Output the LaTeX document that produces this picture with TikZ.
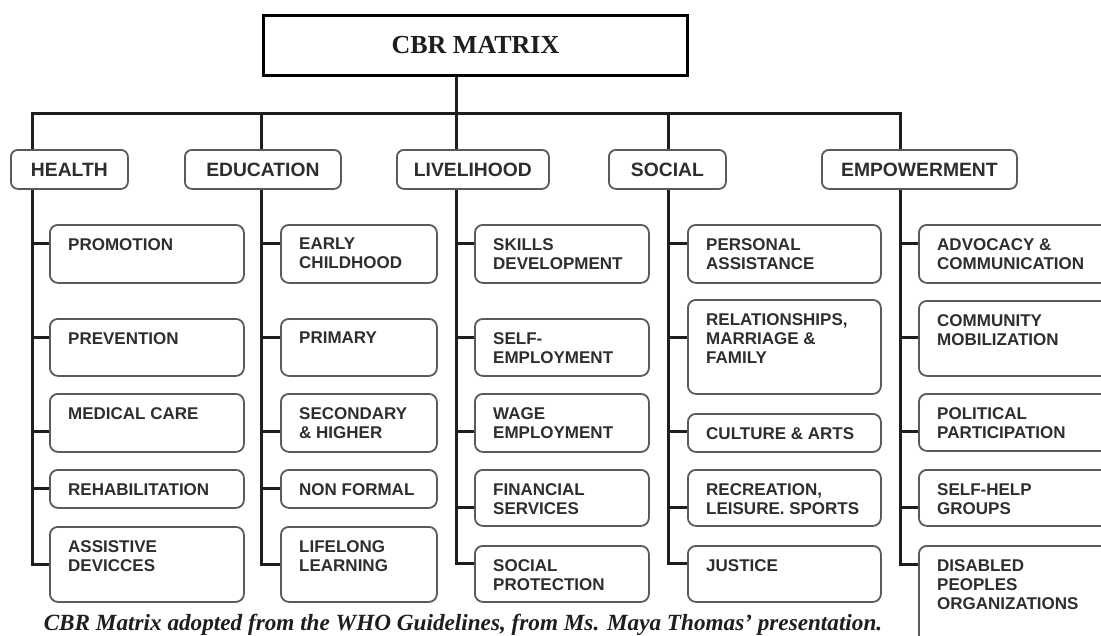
\documentclass[tikz,border=0pt]{standalone}
\usepackage{fontspec}
\setmainfont{Liberation Serif}
\setsansfont{Liberation Sans}
\definecolor{ink}{HTML}{1E1E1E}
\definecolor{boxline}{HTML}{5A5A5A}
\definecolor{txt}{HTML}{2E2E2E}
\tikzset{
  trunk/.style={line width=3pt, draw=ink},
  kidbox/.style={draw=boxline, line width=1.8pt, rounded corners=8pt, fill=white, inner sep=0pt},
  kidtext/.style={font=\sffamily\bfseries\fontsize{17}{19}\selectfont, text=txt, align=left, inner sep=0pt},
  headbox/.style={draw=boxline, line width=1.8pt, rounded corners=7pt, fill=white, inner sep=0pt,
    font=\sffamily\bfseries\fontsize{19.3}{21}\selectfont, text=txt},
  titlebox/.style={draw=black, line width=3pt, fill=white, inner sep=0pt,
    font=\bfseries\fontsize{26}{30}\selectfont, text=ink},
  captext/.style={font=\bfseries\itshape\fontsize{23.2}{26}\selectfont, text=ink, inner sep=0pt}
}
% #1 name, #2 x left, #3 top, #4 width, #5 height, #6 text, #7 trunk x, #8 connector y
\newcommand{\kid}[8]{%
  \node[kidbox, minimum width=#4pt, minimum height=#5pt, anchor=north west] (#1) at (#2,#3) {};
  \node[kidtext, anchor=north west] (#1t) at ([xshift=19pt,yshift=-14pt]#1.north west) {#6};
  \coordinate (#1c) at (#7,#8);
  \draw[trunk] (#1c) -- (#1c -| #1.west);
}
\begin{document}
\begin{tikzpicture}[x=1pt,y=-1pt]
\useasboundingbox (0,0) rectangle (1101,635);
\fill[white] (0,0) rectangle (1101,635);
\clip (0,0) rectangle (1101,635);

% title
\node[titlebox, minimum width=424pt, minimum height=60pt, anchor=north west] (title) at (262,14) {CBR MATRIX};

% headers
\node[headbox, minimum width=117pt, minimum height=39pt, anchor=north west] (hH) at (10,149) {HEALTH};
\node[headbox, minimum width=156pt, minimum height=39pt, anchor=north west] (hE) at (184,149) {EDUCATION};
\node[headbox, minimum width=152pt, minimum height=39pt, anchor=north west] (hL) at (396,149) {LIVELIHOOD};
\node[headbox, minimum width=117pt, minimum height=39pt, anchor=north west] (hS) at (608,149) {SOCIAL};
\node[headbox, minimum width=195pt, minimum height=39pt, anchor=north west] (hM) at (821,149) {EMPOWERMENT};

\coordinate (vH) at (32,113);
\coordinate (vE) at (261,113);
\coordinate (vL) at (456,113);
\coordinate (vS) at (668,113);
\coordinate (vM) at (900,113);

% bus
\draw[trunk] (vH |- hH.north) -- (vH) -- (vM) -- (vM |- hM.north);
\draw[trunk] (vL |- title.south) -- (vL |- hL.north);
\draw[trunk] (vE) -- (vE |- hE.north);
\draw[trunk] (vS) -- (vS |- hS.north);

% HEALTH
\kid{h1}{49}{224}{194}{58}{PROMOTION}{32}{243}
\kid{h2}{49}{318}{194}{57}{PREVENTION}{32}{337}
\kid{h3}{49}{393}{194}{58}{MEDICAL CARE}{32}{431}
\kid{h4}{49}{469}{194}{38}{REHABILITATION}{32}{488}
\kid{h5}{49}{526}{194}{75}{ASSISTIVE\\DEVICCES}{32}{564}
\draw[trunk] (vH |- hH.south) -- (h5c) -- (h5c -| h5.west);

% EDUCATION
\kid{e1}{280}{224}{156}{58}{EARLY\\CHILDHOOD}{261}{243}
\kid{e2}{280}{318}{156}{57}{PRIMARY}{261}{337}
\kid{e3}{280}{393}{156}{58}{SECONDARY\\\& HIGHER}{261}{431}
\kid{e4}{280}{469}{156}{38}{NON FORMAL}{261}{488}
\kid{e5}{280}{526}{156}{75}{LIFELONG\\LEARNING}{261}{564}
\draw[trunk] (vE |- hE.south) -- (e5c) -- (e5c -| e5.west);

% LIVELIHOOD
\kid{l1}{474}{224}{174}{58}{SKILLS\\DEVELOPMENT}{456}{243}
\kid{l2}{474}{318}{174}{57}{SELF-\\EMPLOYMENT}{456}{337}
\kid{l3}{474}{393}{174}{58}{WAGE\\EMPLOYMENT}{456}{431}
\kid{l4}{474}{469}{174}{56}{FINANCIAL\\SERVICES}{456}{507}
\kid{l5}{474}{545}{174}{56}{SOCIAL\\PROTECTION}{456}{563}
\draw[trunk] (vL |- hL.south) -- (l5c) -- (l5c -| l5.west);

% SOCIAL
\kid{s1}{687}{224}{193}{58}{PERSONAL\\ASSISTANCE}{668}{243}
\kid{s2}{687}{299}{193}{94}{RELATIONSHIPS,\\MARRIAGE \&\\FAMILY}{668}{337}
\kid{s3}{687}{413}{193}{38}{CULTURE \& ARTS}{668}{431}
\kid{s4}{687}{469}{193}{56}{RECREATION,\\LEISURE. SPORTS}{668}{507}
\kid{s5}{687}{545}{193}{56}{JUSTICE}{668}{563}
\draw[trunk] (vS |- hS.south) -- (s5c) -- (s5c -| s5.west);

% EMPOWERMENT
\kid{m1}{918}{224}{200}{58}{ADVOCACY \&\\COMMUNICATION}{900}{243}
\kid{m2}{918}{300}{200}{75}{COMMUNITY\\MOBILIZATION}{900}{337}
\kid{m3}{918}{393}{200}{57}{POLITICAL\\PARTICIPATION}{900}{431}
\kid{m4}{918}{469}{200}{56}{SELF-HELP\\GROUPS}{900}{507}
\kid{m5}{918}{545}{200}{100}{DISABLED\\PEOPLES\\ORGANIZATIONS}{900}{564}
\draw[trunk] (vM |- hM.south) -- (m5c) -- (m5c -| m5.west);

% caption
\node[captext, anchor=base] (cap) at (463,630) {CBR Matrix adopted from the WHO Guidelines, from Ms. Maya Thomas' presentation.};
\end{tikzpicture}
\end{document}
